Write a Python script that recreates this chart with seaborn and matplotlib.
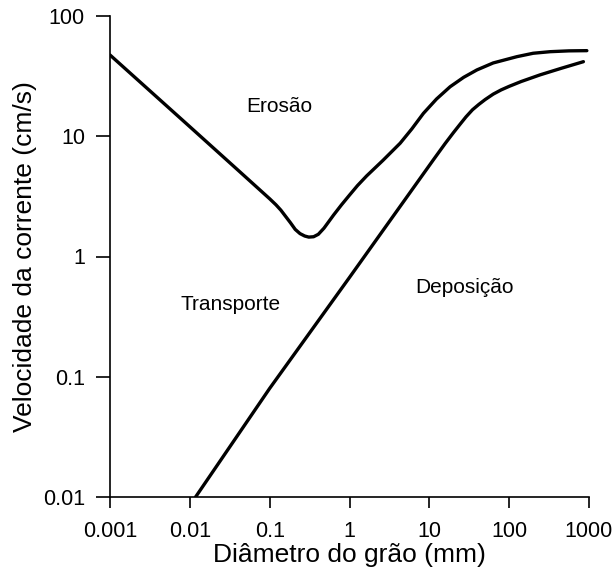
import numpy as np
import pandas as pd
import matplotlib
matplotlib.use("Agg")
import matplotlib.pyplot as plt
import seaborn as sns

# curva de erosao (diametro mm, velocidade cm/s)
erosao_d = [0.001, 0.01, 0.0398, 0.1, 0.120, 0.138, 0.158, 0.182, 0.209, 0.240,
            0.275, 0.309, 0.355, 0.407, 0.479, 0.550, 0.631, 0.794, 1.0, 1.26,
            1.64, 2.63, 4.31, 6.03, 8.43, 12.3, 18.2, 26.9, 39.4, 63.1,
            125, 200, 327, 562, 940]
erosao_v = [47.4, 12.0, 5.25, 3.02, 2.69, 2.43, 2.16, 1.91, 1.68, 1.55,
            1.48, 1.45, 1.46, 1.53, 1.72, 1.95, 2.21, 2.69, 3.24, 3.89,
            4.68, 6.31, 8.75, 11.5, 15.5, 20.4, 25.8, 30.9, 35.6, 40.7,
            45.9, 49.0, 50.5, 51.3, 51.5]

# curva de deposicao
deposicao_d = [0.0118, 0.1, 1.0, 11.2, 15.8, 20.0, 24.3, 28.8, 34.7, 41.7,
               50.1, 63.1, 79.4, 100, 141, 244, 447, 851]
deposicao_v = [0.01, 0.08, 0.67, 6.35, 8.71, 10.7, 12.6, 14.5, 16.6, 18.4,
               20.2, 22.4, 24.3, 26.0, 28.5, 32.4, 36.7, 41.7]

x_ticks = [0.001, 0.01, 0.1, 1, 10, 100, 1000]
x_labels = ['0.001', '0.01', '0.1', '1', '10', '100', '1000']
y_ticks = [0.01, 0.1, 1, 10, 100]
y_labels = ['0.01', '0.1', '1', '10', '100']

regioes = ['Erosão', 'Transporte', 'Deposição']
regioes_x = [0.131, 0.0328, 27.3]
regioes_y = [15.9, 0.36, 0.497]

sns.set_theme(style="ticks")
plt.rcParams['font.family'] = ['Liberation Sans', 'DejaVu Sans']

fig = plt.figure(figsize=(6.16, 5.74), dpi=100)
ax = fig.add_axes([110/616, 77/574, 479/616, 481/574])

sns.lineplot(x=erosao_d, y=erosao_v, sort=False, estimator=None,
             color='black', lw=2.4, ax=ax)
sns.lineplot(x=deposicao_d, y=deposicao_v, sort=False, estimator=None,
             color='black', lw=2.4, ax=ax)

ax.set_xscale('log')
ax.set_yscale('log')
ax.set_xlim(0.001, 1000)
ax.set_ylim(0.01, 100)
ax.minorticks_off()
ax.set_xticks(x_ticks, labels=x_labels)
ax.set_yticks(y_ticks, labels=y_labels)

for nome, xx, yy in zip(regioes, regioes_x, regioes_y):
    ax.text(xx, yy, nome, ha='center', va='baseline', fontsize=15, color='black')

ax.tick_params(axis='x', length=8, width=1.2, pad=9, labelsize=15.5, colors='black')
ax.tick_params(axis='y', length=10, width=1.2, pad=8, labelsize=15.5, colors='black')
ax.set_xlabel('Diâmetro do grão (mm)', fontsize=19, labelpad=1, color='black')
ax.set_ylabel('Velocidade da corrente (cm/s)', fontsize=19, labelpad=4, color='black')

sns.despine(ax=ax)
for s in ['left', 'bottom']:
    ax.spines[s].set_linewidth(1.2)
    ax.spines[s].set_color('black')

fig.savefig('out.png', dpi=100)
